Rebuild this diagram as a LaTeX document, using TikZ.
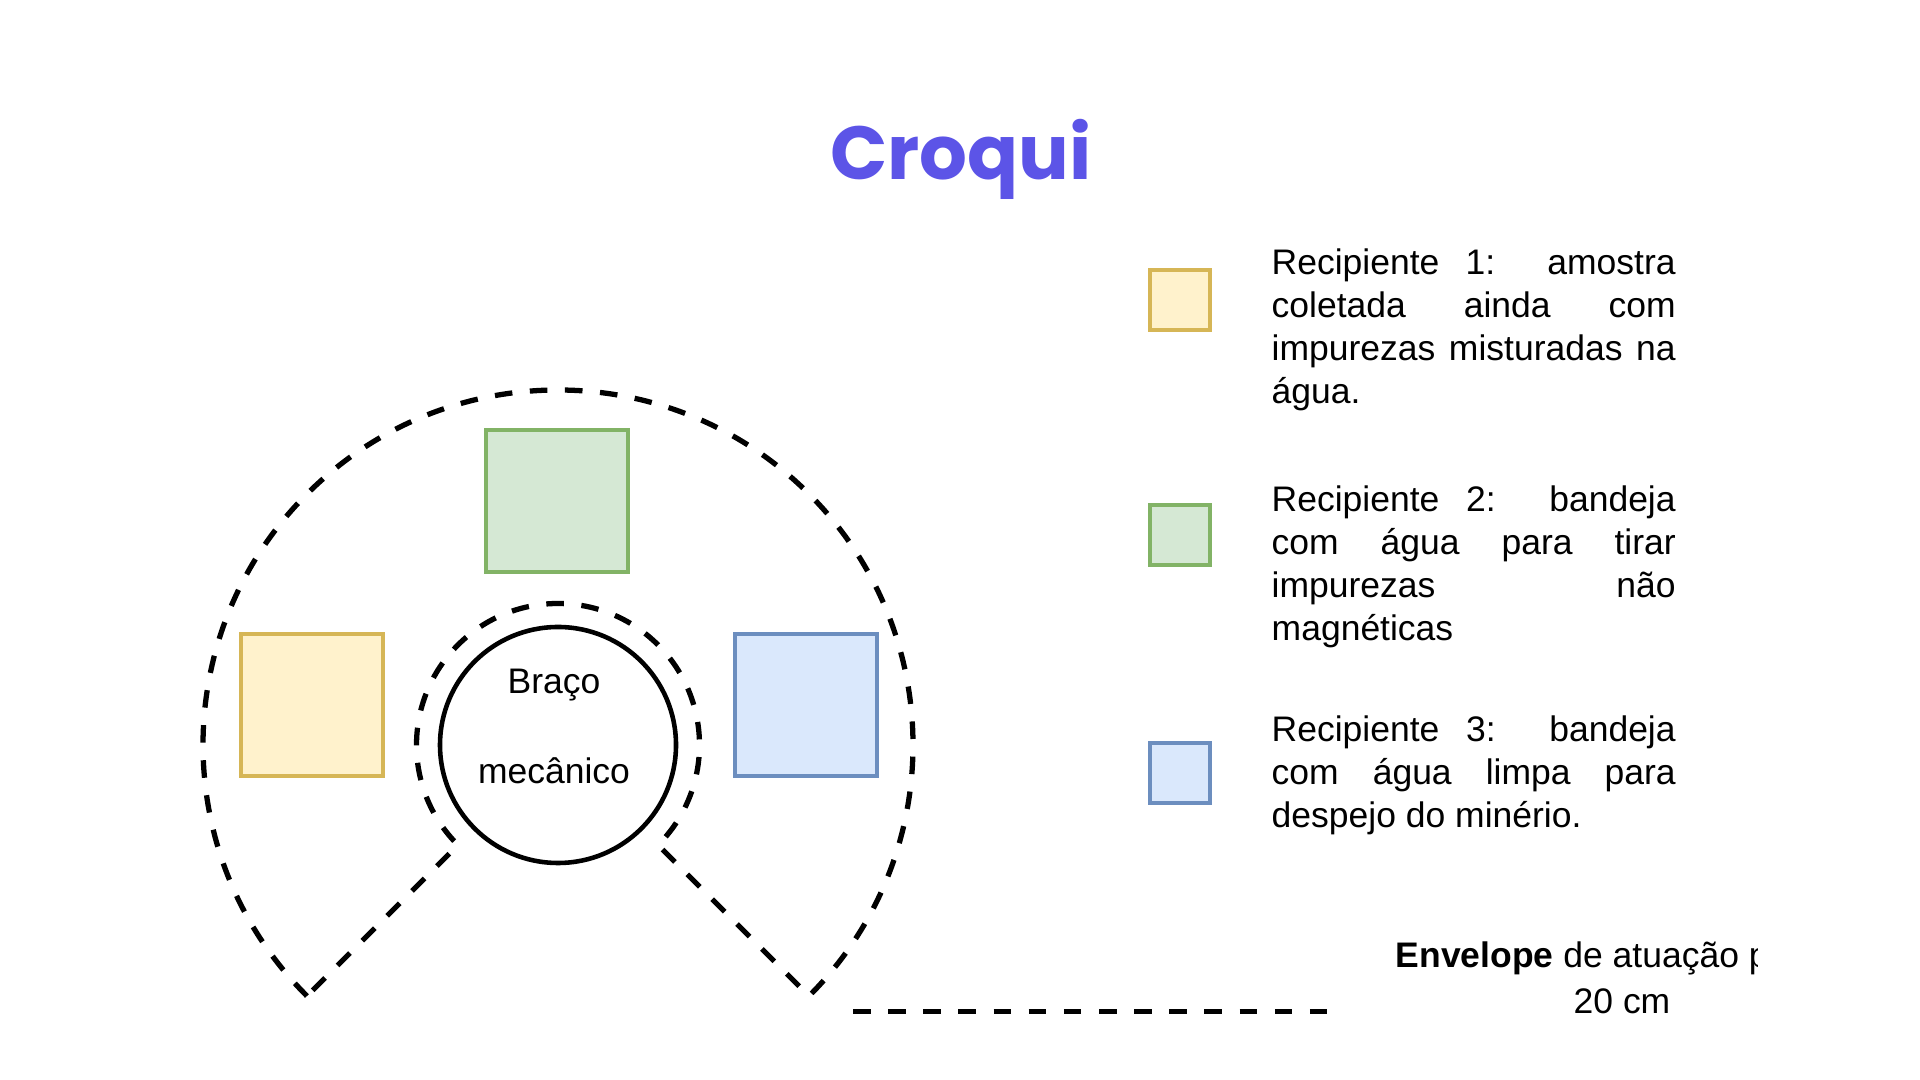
\documentclass[tikz,border=0pt]{standalone}
\usepackage{fontspec}
\setmainfont{Liberation Sans}
\newfontfamily\croquifont{Poppins}
\usepackage{tikz}
\usetikzlibrary{calc}
\usetikzlibrary{positioning}

\definecolor{amareloF}{HTML}{FFF2CC}
\definecolor{amareloL}{HTML}{D6B656}
\definecolor{verdeF}{HTML}{D5E8D4}
\definecolor{verdeL}{HTML}{82B366}
\definecolor{azulF}{HTML}{DAE8FC}
\definecolor{azulL}{HTML}{6C8EBF}
\definecolor{roxo}{RGB}{92,84,231}

\begin{document}
\begin{tikzpicture}[
  envelope/.style={line width=1.5pt, dash pattern=on 5pt off 5pt},
  bandeja/.style={draw, line width=1.4pt, minimum size=1.42cm, inner sep=0},
  legbox/.style={draw, line width=1.4pt, minimum size=0.6cm, inner sep=0},
  legtext/.style={anchor=base west, inner sep=0, text width=4.04cm, align=justify,
    font=\fontsize{10.1}{12.2}\selectfont},
  every node/.append style={font=\fontsize{10.1}{12.2}\selectfont}]

  \useasboundingbox (0,0) rectangle (19.2,10.8);

  \node[anchor=base, text=roxo, font=\croquifont\bfseries\fontsize{21.4}{25}\selectfont]
    (titulo) at (9.61,9.0) {Croqui};

  % envelope de atuacao
  \coordinate (centro) at (5.58,3.35);
  \draw[envelope] ($(centro)+(225:3.55)$) arc[start angle=225, end angle=-45, radius=3.55]
    -- ($(centro)+(-45:1.415)$) arc[start angle=-45, end angle=225, radius=1.415] -- cycle;

  \node[draw, circle, line width=1.3pt, minimum size=2.36cm] (braco) at (centro) {};
  \node[align=center, font=\fontsize{10.1}{25.6}\selectfont] (bracotxt)
    at ([xshift=-0.04cm, yshift=5.3pt]braco.center) {Braço\\mecânico};

  \node[bandeja, fill=amareloF, draw=amareloL] (rec1) at (3.12,3.75) {};
  \node[bandeja, fill=verdeF, draw=verdeL] (rec2) at (5.57,5.79) {};
  \node[bandeja, fill=azulF, draw=azulL] (rec3) at (8.06,3.75) {};

  % legenda
  \node[legbox, fill=amareloF, draw=amareloL] (leg1) at (11.80,7.80) {};
  \node[legbox, fill=verdeF, draw=verdeL] (leg2) at (11.80,5.45) {};
  \node[legbox, fill=azulF, draw=azulL] (leg3) at (11.80,3.07) {};

  \node[legtext] (txt1) at (12.71,8.055)
    {Recipiente 1:\ \ amostra\linebreak coletada ainda com\linebreak impurezas misturadas na\linebreak água.};
  \node[legtext] (txt2) at (12.71,5.685)
    {Recipiente 2:\ \ bandeja\linebreak com água para tirar\linebreak impurezas não\linebreak magnéticas};
  \node[legtext] (txt3) at (12.71,3.385)
    {Recipiente 3:\ \ bandeja\linebreak com água limpa para\linebreak despejo do minério.};

  \coordinate (envA) at (8.53,0.683);
  \coordinate (envB) at (13.28,0.683);
  \draw[envelope] (envA) -- (envB);

  \begin{scope}
    \clip (13.8,0.85) rectangle (17.57,1.55);
    \node[anchor=base west, inner sep=0] (envtxt) at (13.95,1.125)
      {\textbf{Envelope} de atuação para};
  \end{scope}
  \node[anchor=base, inner sep=0] (envcm) at (16.22,0.66) {20 cm};
\end{tikzpicture}
\end{document}
